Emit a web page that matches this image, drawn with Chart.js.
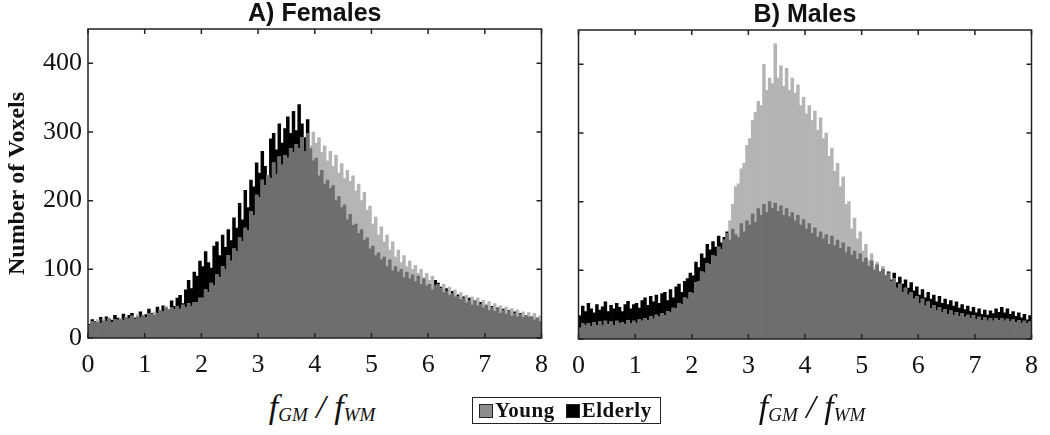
<!DOCTYPE html>
<html>
<head>
<meta charset="utf-8">
<script src="https://cdn.jsdelivr.net/npm/chart.js@4.4.0/dist/chart.umd.min.js"></script>
<style>
  html, body { margin: 0; padding: 0; background: #fff; }
  #page { position: relative; width: 1050px; height: 435px; overflow: hidden; background: #fff; }
  canvas { position: absolute; top: 0; }
  #femalesChart { left: 0; }
  #malesChart { left: 560px; }
  .xtitle {
    position: absolute; top: 388px; width: 200px; text-align: center;
    font-family: 'Liberation Serif', serif; font-style: italic; font-size: 34px; color: #111;
  }
  .xtitle sub { font-size: 19px; vertical-align: baseline; position: relative; top: 3px; }
  #legend {
    position: absolute; left: 472px; top: 397px; width: 187px; height: 25px;
    border: 1px solid #222; font-family: 'Liberation Serif', serif; font-weight: bold;
    font-size: 21px; letter-spacing: 0.5px; line-height: 25px; color: #111; white-space: nowrap;
  }
  #legend .sw { display: inline-block; width: 12px; height: 12px; border: 1px solid #222; vertical-align: -1px; margin: 0 2px 0 6px; }
  #legend .sw.second { margin-left: 11px; }
</style>
</head>
<body>
<div id="page">
  <canvas id="femalesChart" width="560" height="388"></canvas>
  <canvas id="malesChart" width="490" height="389"></canvas>
  <div class="xtitle" style="left:222px">f<sub>GM</sub> / f<sub>WM</sub></div>
  <div class="xtitle" style="left:712px">f<sub>GM</sub> / f<sub>WM</sub></div>
  <div id="legend"><span class="sw" style="background:#8c8c8c"></span>Young<span class="sw second" style="background:#000"></span>Elderly</div>
</div>
<script>
// histogram bins: 0.05 wide from 0 to 8
const binWidth = 0.05;
const binCount = 160;

const xTickLabels = ['0', '1', '2', '3', '4', '5', '6', '7', '8'];
const yTickLabels = ['0', '100', '200', '300', '400'];

const femalesYoung = [
    18, 24, 22, 27, 21, 28, 24, 29, 23, 27, 26, 29, 25, 31, 28, 32, 27, 34, 29, 33,
    30, 36, 34, 38, 36, 41, 38, 46, 40, 44, 41, 46, 42, 48, 44, 50, 46, 52, 52, 58,
    58, 70, 66, 80, 76, 92, 88, 104, 100, 120, 112, 130, 126, 146, 140, 160, 156, 184, 178, 208,
    205, 230, 222, 236, 232, 255, 238, 264, 252, 266, 262, 276, 270, 282, 276, 292, 272, 298, 280, 300,
    284, 292, 270, 280, 258, 272, 250, 266, 240, 254, 232, 244, 228, 236, 214, 224, 200, 212, 186, 192,
    166, 176, 150, 162, 140, 150, 128, 140, 118, 128, 110, 120, 104, 112, 100, 106, 94, 100, 88, 94,
    84, 90, 76, 78, 72, 78, 68, 74, 64, 70, 60, 66, 57, 62, 54, 60, 54, 58, 49, 55,
    47, 53, 44, 50, 42, 47, 40, 45, 38, 43, 36, 41, 34, 38, 33, 37, 31, 36, 29, 32,
];
const femalesElderly = [
    20, 27, 24, 23, 30, 25, 31, 28, 26, 33, 29, 27, 35, 30, 33, 36, 29, 31, 38, 33,
    34, 42, 36, 33, 45, 40, 47, 44, 41, 54, 46, 58, 62, 50, 70, 84, 72, 96, 90, 112,
    104, 126, 110, 102, 134, 140, 120, 150, 132, 158, 142, 175, 160, 196, 172, 215, 190, 230, 220, 255,
    240, 272, 250, 236, 290, 298, 274, 312, 284, 305, 322, 298, 330, 302, 340, 312, 292, 318, 276, 258,
    262, 236, 244, 224, 230, 218, 222, 200, 206, 190, 194, 172, 180, 164, 166, 152, 158, 142, 146, 130,
    134, 120, 124, 114, 118, 104, 114, 98, 104, 96, 100, 88, 96, 86, 92, 82, 90, 78, 86, 76,
    78, 70, 84, 80, 74, 66, 72, 62, 68, 60, 63, 56, 60, 51, 58, 48, 54, 47, 52, 44,
    48, 40, 46, 39, 44, 36, 42, 35, 40, 32, 38, 31, 36, 30, 33, 30, 31, 26, 29, 24,
];
const malesYoung = [
    16, 22, 19, 23, 18, 24, 20, 25, 19, 26, 21, 25, 20, 26, 22, 24, 21, 27, 22, 26,
    23, 28, 26, 30, 27, 33, 29, 35, 32, 37, 34, 40, 38, 45, 44, 52, 50, 60, 58, 68,
    66, 82, 84, 98, 96, 110, 108, 122, 120, 134, 130, 144, 154, 172, 196, 222, 226, 248, 256, 282,
    292, 318, 330, 346, 340, 400, 362, 380, 372, 430, 380, 398, 368, 394, 362, 380, 358, 370, 340, 352,
    328, 340, 318, 332, 304, 322, 292, 300, 266, 278, 244, 256, 222, 236, 196, 200, 160, 176, 146, 156,
    128, 138, 114, 124, 104, 112, 98, 106, 92, 96, 84, 88, 74, 80, 68, 74, 64, 68, 58, 62,
    52, 58, 48, 54, 44, 49, 41, 46, 38, 43, 36, 41, 34, 39, 33, 37, 32, 35, 30, 34,
    28, 32, 27, 31, 26, 30, 26, 30, 27, 30, 26, 29, 25, 28, 24, 27, 23, 26, 22, 25,
];
const malesElderly = [
    34, 48, 40, 52, 44, 38, 50, 42, 47, 54, 40, 49, 44, 52, 46, 40, 50, 55, 44, 50,
    52, 45, 56, 60, 49, 62, 54, 64, 52, 66, 68, 56, 72, 60, 76, 80, 68, 84, 88, 96,
    92, 112, 104, 124, 118, 138, 130, 142, 134, 150, 140, 148, 156, 144, 160, 152, 148, 168, 156, 172,
    166, 182, 170, 190, 180, 196, 184, 200, 190, 198, 186, 194, 180, 190, 178, 184, 172, 180, 166, 174,
    160, 168, 154, 162, 148, 156, 146, 152, 138, 150, 136, 144, 132, 140, 126, 134, 122, 128, 116, 124,
    112, 118, 106, 114, 100, 108, 98, 102, 92, 98, 86, 96, 82, 90, 80, 86, 74, 82, 70, 76,
    64, 72, 60, 68, 58, 64, 54, 62, 52, 58, 50, 56, 48, 54, 45, 50, 43, 48, 40, 46,
    38, 44, 36, 42, 35, 41, 37, 44, 39, 46, 38, 44, 36, 40, 33, 38, 31, 36, 28, 34,
];

const binCenters = Array.from({ length: binCount }, (_, i) => +(i * binWidth + binWidth / 2).toFixed(3));
const toPoints = (values) => values.map((v, i) => ({ x: binCenters[i], y: v }));

// inward MATLAB-style ticks + box
const framePlugin = {
    id: 'frame',
    afterDatasetsDraw(chart) {
        const { ctx, chartArea: a, scales: { x, y } } = chart;
        ctx.save();
        ctx.strokeStyle = '#222';
        ctx.lineWidth = 1.5;
        ctx.strokeRect(a.left, a.top, a.right - a.left, a.bottom - a.top);
        ctx.beginPath();
        xTickLabels.forEach((t) => {
            const px = x.getPixelForValue(Number(t));
            ctx.moveTo(px, a.bottom); ctx.lineTo(px, a.bottom - 5);
            ctx.moveTo(px, a.top); ctx.lineTo(px, a.top + 5);
        });
        yTickLabels.forEach((t) => {
            const py = y.getPixelForValue(Number(t));
            ctx.moveTo(a.left, py); ctx.lineTo(a.left + 5, py);
            ctx.moveTo(a.right, py); ctx.lineTo(a.right - 5, py);
        });
        ctx.stroke();
        ctx.restore();
    },
};

function makePanel(canvasId, title, young, elderly, opts) {
    const overlap = young.map((v, i) => Math.min(v, elderly[i]));
    const barStyle = { grouped: false, barPercentage: 1, categoryPercentage: 1, borderWidth: 0 };
    return new Chart(document.getElementById(canvasId), {
        type: 'bar',
        data: {
            datasets: [
                { label: 'overlap', data: toPoints(overlap), backgroundColor: '#6e6e6e', order: 0, ...barStyle },
                { label: 'Young', data: toPoints(young), backgroundColor: '#b4b4b4', order: 1, ...barStyle },
                { label: 'Elderly', data: toPoints(elderly), backgroundColor: '#000000', order: 2, ...barStyle },
            ],
        },
        options: {
            responsive: false,
            animation: false,
            events: [],
            layout: { padding: { left: 0, right: opts.padRight, top: 0, bottom: 0 } },
            plugins: {
                legend: { display: false },
                tooltip: { enabled: false },
                title: {
                    display: true,
                    fullSize: false,
                    text: title,
                    color: '#111',
                    font: { family: 'Liberation Sans', size: 25, weight: 'bold', lineHeight: opts.titleLine },
                    padding: 0,
                },
            },
            scales: {
                x: {
                    type: 'linear',
                    min: 0,
                    max: 8,
                    offset: false,
                    grid: { display: false, drawTicks: false },
                    border: { display: false },
                    ticks: {
                        stepSize: 1,
                        padding: 12,
                        color: '#111',
                        font: { family: 'Liberation Serif', size: 26 },
                        callback: (v) => xTickLabels[v],
                    },
                    afterFit: (s) => { s.height = 50; },
                },
                y: {
                    min: 0,
                    max: 450,
                    grid: { display: false, drawTicks: false },
                    border: { display: false },
                    ticks: {
                        display: opts.showY,
                        stepSize: 100,
                        includeBounds: false,
                        padding: 6,
                        color: '#111',
                        font: { family: 'Liberation Serif', size: 26 },
                        callback: (v) => yTickLabels[v / 100],
                    },
                    title: {
                        display: opts.showY,
                        text: 'Number of Voxels',
                        color: '#111',
                        font: { family: 'Liberation Serif', size: 24, weight: 'bold' },
                        padding: { top: 3, bottom: 0 },
                    },
                    afterFit: (s) => { s.width = opts.yWidth; },
                },
            },
        },
        plugins: [framePlugin],
    });
}

makePanel('femalesChart', 'A) Females', femalesYoung, femalesElderly,
    { padRight: 15, yWidth: 88, showY: true, titleLine: 29 / 25 });
makePanel('malesChart', 'B) Males', malesYoung, malesElderly,
    { padRight: 17, yWidth: 17, showY: false, titleLine: 30 / 25 });
</script>
</body>
</html>
